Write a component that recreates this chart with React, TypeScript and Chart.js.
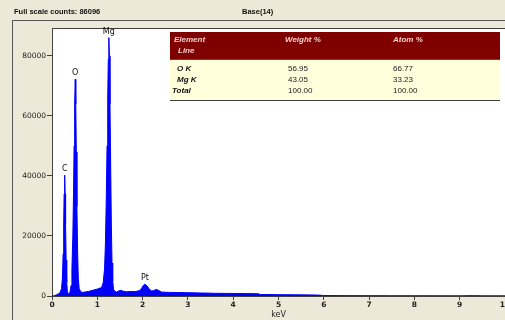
import React, { useEffect, useRef } from "react";
import { Chart, registerables } from "chart.js";

Chart.register(...registerables);

// Spectrum (keV, counts)
const energyKeV = [
  0.0, 0.05, 0.1, 0.15, 0.18, 0.21, 0.23, 0.245, 0.258, 0.268, 0.28, 0.29, 0.3, 0.312, 0.325, 0.34,
  0.36, 0.38, 0.4, 0.42, 0.44, 0.46, 0.475, 0.488, 0.5, 0.513, 0.525, 0.537, 0.55, 0.565, 0.58, 0.6,
  0.63, 0.67, 0.72, 0.8, 0.9, 1.0, 1.07, 1.1, 1.13, 1.16, 1.18, 1.2, 1.215, 1.23, 1.243, 1.255, 1.267,
  1.28, 1.295, 1.31, 1.325, 1.34, 1.36, 1.39, 1.43, 1.47, 1.52, 1.57, 1.65, 1.75, 1.85, 1.93, 1.98,
  2.02, 2.05, 2.09, 2.14, 2.19, 2.25, 2.3, 2.35, 2.42, 2.6, 2.8, 3.0, 3.3, 3.6, 4.0, 4.3, 4.55, 4.6,
  5.0, 5.5, 5.9, 6.0, 6.5, 7.0, 7.5, 8.0, 8.5, 9.0, 9.3, 9.5, 10.0,
];
const counts = [
  0, 100, 400, 800, 1200, 2500, 6000, 14000, 24000, 34000, 40300, 34000, 24000, 12000, 4500, 1500,
  700, 700, 1500, 3500, 9000, 20000, 34000, 50000, 64000, 72200, 64000, 48000, 30000, 15000, 6000, 2500,
  1500, 1200, 1300, 1500, 1900, 2300, 2700, 3000, 4500, 9000, 18000, 34000, 50000, 66000, 79000, 86100, 80000,
  64000, 44000, 24000, 11000, 5000, 2200, 1500, 1300, 1700, 1900, 1600, 1400, 1500, 1500, 1800, 2600,
  3600, 3900, 3500, 2500, 1700, 1800, 2200, 1900, 1300, 1200, 1150, 1100, 1000, 900, 850, 800, 750, 500,
  450, 380, 300, 150, 120, 100, 90, 80, 70, 60, 120, 60, 50,
];

// Peak labels
const peakNames = ["C", "O", "Mg", "Pt"];
const peakKeV = [0.28, 0.513, 1.255, 2.05];
const peakCounts = [40300, 72200, 86100, 3900];

// Axis ticks
const yTickValues = [0, 20000, 40000, 60000, 80000];

// Table
const tableElements = ["O K", "Mg K", "Total"];
const weightPct = ["56.95", "43.05", "100.00"];
const atomPct = ["66.77", "33.23", "100.00"];

const headerLeft = "Full scale counts: 86096";
const headerCenter = "Base(14)";

const BEIGE = "#ECE9D8";
const AXIS = "#404040";

export default function App() {
  const canvasRef = useRef<HTMLCanvasElement | null>(null);

  useEffect(() => {
    document.body.style.margin = "0";
    const canvas = canvasRef.current;
    if (!canvas) return;

    const bgPlugin = {
      id: "bgPlugin",
      beforeDraw(chart: any) {
        const { ctx, chartArea } = chart;
        ctx.save();
        ctx.fillStyle = BEIGE;
        ctx.fillRect(0, 0, chart.width, chart.height);
        ctx.fillStyle = "#FFFFFF";
        ctx.fillRect(chartArea.left, chartArea.top, chartArea.right - chartArea.left, chartArea.bottom - chartArea.top);
        ctx.strokeStyle = "#555555";
        ctx.lineWidth = 1;
        ctx.beginPath();
        ctx.moveTo(12.5, 20);
        ctx.lineTo(12.5, chart.height);
        ctx.moveTo(12, 20.5);
        ctx.lineTo(chart.width, 20.5);
        ctx.stroke();
        ctx.restore();
      },
      afterDraw(chart: any) {
        const { ctx, chartArea, scales } = chart;
        ctx.save();
        ctx.strokeStyle = AXIS;
        ctx.lineWidth = 1;
        ctx.beginPath();
        ctx.moveTo(chartArea.left, chartArea.top + 0.5);
        ctx.lineTo(chartArea.right, chartArea.top + 0.5);
        ctx.stroke();
        ctx.fillStyle = "#111111";
        ctx.font = "8px 'DejaVu Sans'";
        ctx.textAlign = "center";
        ctx.textBaseline = "middle";
        for (let i = 0; i < peakNames.length; i++) {
          const px = scales.x.getPixelForValue(peakKeV[i]);
          const py = scales.y.getPixelForValue(peakCounts[i]);
          ctx.fillText(peakNames[i], px, py - 6);
        }
        ctx.restore();
      },
    };

    const chart = new Chart(canvas, {
      type: "line",
      data: {
        datasets: [
          {
            data: energyKeV.map((e, i) => ({ x: e, y: counts[i] })),
            borderColor: "#0000FF",
            backgroundColor: "#0000FF",
            borderWidth: 1,
            pointRadius: 0,
            fill: "origin",
            tension: 0,
          },
        ],
      },
      options: {
        animation: false,
        responsive: true,
        maintainAspectRatio: false,
        layout: { padding: { top: 28, left: 0, right: 0, bottom: 0 } },
        plugins: {
          legend: { display: false },
          tooltip: { enabled: false },
        },
        scales: {
          x: {
            type: "linear",
            min: 0,
            max: 10,
            afterFit: (s: any) => {
              s.height = 24;
              s.paddingLeft = 0;
              s.paddingRight = 0;
            },
            ticks: {
              stepSize: 1,
              padding: 1,
              color: "#222222",
              font: { family: "DejaVu Sans", size: 7.5, weight: "bold" },
              maxRotation: 0,
              callback: (v: any) => String(v),
            },
            grid: { drawOnChartArea: false, color: AXIS, tickLength: 4 },
            border: { color: AXIS, width: 1 },
            title: {
              display: true,
              text: "keV",
              color: "#222222",
              font: { family: "DejaVu Sans", size: 8 },
              padding: { top: 0, bottom: 0 },
            },
          },
          y: {
            type: "linear",
            min: 0,
            max: 89300,
            afterFit: (s: any) => {
              s.width = 52;
              s.paddingTop = 0;
              s.paddingBottom = 0;
            },
            afterBuildTicks: (s: any) => {
              s.ticks = yTickValues.map((v) => ({ value: v }));
            },
            ticks: {
              padding: 1,
              color: "#222222",
              font: { family: "DejaVu Sans", size: 7.5 },
              callback: (v: any) => String(v),
            },
            grid: { drawOnChartArea: false, color: AXIS, tickLength: 5 },
            border: { color: AXIS, width: 1 },
          },
        },
      },
      plugins: [bgPlugin],
    });

    return () => chart.destroy();
  }, []);

  const cellFont: React.CSSProperties = {
    position: "absolute",
    fontFamily: "'Liberation Sans', Arial, sans-serif",
    fontSize: "8px",
    lineHeight: "10px",
    whiteSpace: "nowrap",
  };
  const headFont: React.CSSProperties = {
    position: "absolute",
    top: 7,
    fontFamily: "'Liberation Sans', Arial, sans-serif",
    fontWeight: "bold",
    fontSize: "7.5px",
    lineHeight: "10px",
    color: "#111",
    whiteSpace: "nowrap",
  };
  const rowTops = [64, 75, 86];

  return (
    <div style={{ position: "absolute", left: 0, top: 0, width: 505, height: 320, overflow: "hidden" }}>
      <canvas ref={canvasRef} width={505} height={320} />
      <div style={{ ...headFont, left: 14 }}>{headerLeft}</div>
      <div style={{ ...headFont, left: 242 }}>{headerCenter}</div>
      {/* table */}
      <div
        style={{
          position: "absolute",
          left: 170,
          top: 32,
          width: 330,
          height: 27,
          background: "#800000",
          borderBottom: "1px solid #505050",
        }}
      />
      <div
        style={{
          position: "absolute",
          left: 170,
          top: 60,
          width: 330,
          height: 40,
          background: "#FFFFDC",
          borderBottom: "1px solid #404040",
        }}
      />
      <div style={{ ...cellFont, left: 174, top: 35, color: "#F2CFCF", fontWeight: "bold", fontStyle: "italic" }}>Element</div>
      <div style={{ ...cellFont, left: 178, top: 46, color: "#F2CFCF", fontWeight: "bold", fontStyle: "italic" }}>Line</div>
      <div style={{ ...cellFont, left: 285, top: 35, color: "#F2CFCF", fontWeight: "bold", fontStyle: "italic" }}>Weight %</div>
      <div style={{ ...cellFont, left: 393, top: 35, color: "#F2CFCF", fontWeight: "bold", fontStyle: "italic" }}>Atom %</div>
      {tableElements.map((el, i) => (
        <React.Fragment key={el}>
          <div
            style={{
              ...cellFont,
              left: i === 2 ? 172 : 177,
              top: rowTops[i],
              color: "#111",
              fontWeight: "bold",
              fontStyle: "italic",
            }}
          >
            {el}
          </div>
          <div style={{ ...cellFont, left: 288, top: rowTops[i], color: "#222" }}>{weightPct[i]}</div>
          <div style={{ ...cellFont, left: 393, top: rowTops[i], color: "#222" }}>{atomPct[i]}</div>
        </React.Fragment>
      ))}
    </div>
  );
}
